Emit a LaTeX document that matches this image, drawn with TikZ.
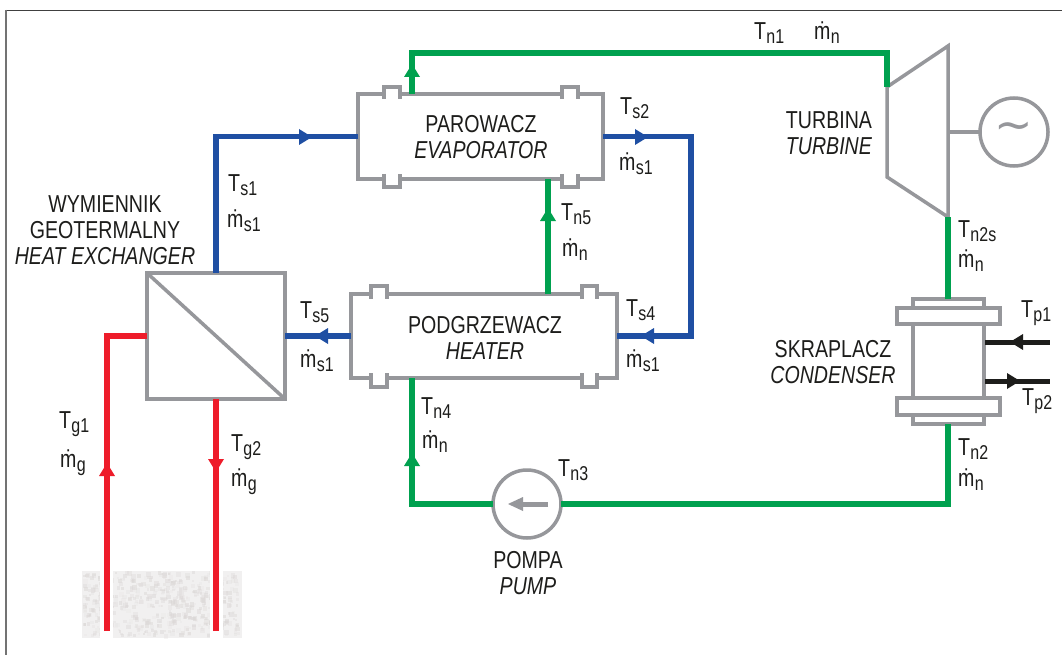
\documentclass[tikz,border=0pt]{standalone}
\usepackage{fontspec}
\setmainfont[FakeStretch=0.8]{Liberation Sans}
\newfontfamily\symfont{DejaVu Sans}
\definecolor{cgray}{HTML}{96979B}
\definecolor{cgreen}{HTML}{00A14F}
\definecolor{cblue}{HTML}{1F4FA3}
\definecolor{cred}{HTML}{EE1C2A}
\definecolor{cblack}{HTML}{1D1D1B}
\definecolor{cground}{HTML}{F1F0F0}
\definecolor{cspeck}{HTML}{DAD6D5}
\newcommand{\Tlab}[1]{T\kern0.5pt\raisebox{-4pt}{\fontsize{20}{20}\selectfont #1}}
\newcommand{\Mlab}[1]{\.{m}\kern0.5pt\raisebox{-4pt}{\fontsize{20}{20}\selectfont #1}}
\newcommand{\flow}[5]{\fill[#1] ({#2},{#3}) -- ({#2-13*(#4)+8*(#5)},{#3-13*(#5)+8*(#4)}) -- ({#2-13*(#4)-8*(#5)},{#3-13*(#5)-8*(#4)}) -- cycle;}
\tikzset{
  every node/.style={inner sep=0pt,outer sep=0pt,text=cblack,font=\fontsize{24.5}{26}\selectfont},
  unit/.style={draw=cgray,line width=3.5pt,rectangle},
  part/.style={draw=cgray,line width=3.5pt},
  pipeg/.style={draw=cgreen,line width=5.2pt},
  pipeb/.style={draw=cblue,line width=5.2pt},
  piper/.style={draw=cred,line width=5.5pt},
  pipek/.style={draw=cblack,line width=5pt},
  lab/.style={anchor=base west},
  captxt/.style={align=center,anchor=center},
}
\begin{document}
\begin{tikzpicture}[x=1pt,y=-1pt]
\useasboundingbox (0,0) rectangle (1062,655);
\fill[white] (0,0) rectangle (1062,655);
\draw[black!75,line width=1.3pt] (5,10.5) -- (1062,10.5);
\draw[black!55,line width=1.6pt] (6,10) -- (6,655);
% ground
\fill[cground] (82,571) rectangle (242,638);
\pgfmathsetseed{42}
\foreach \i in {1,...,520}{
  \pgfmathsetmacro{\gx}{82+rnd*155}
  \pgfmathsetmacro{\gy}{571+rnd*63}
  \pgfmathsetmacro{\go}{0.1+0.4*rnd}
  \pgfmathsetmacro{\gs}{2+3*rnd}
  \fill[cspeck,opacity=\go] (\gx,\gy) rectangle ++(\gs,\gs);
}
\fill[white] (100,571) rectangle (113,638);
\fill[white] (210,571) rectangle (223,638);
% units
\node[unit,minimum width=245pt,minimum height=85pt] (evap) at (480.5,136.5) {};
\node[unit,minimum width=266pt,minimum height=84pt] (heat) at (484,336) {};
\node[unit,minimum width=138pt,minimum height=126pt] (hx) at (216,336) {};
\draw[part] (hx.north west) -- (hx.south east);
\node[draw=cgray,line width=3.5pt,circle,minimum size=68pt] (pump) at (527,504) {};
\node[draw=cgray,line width=3.5pt,circle,minimum size=68pt] (gen) at (1014,132) {};
\node[font=\symfont\fontsize{46}{46}\selectfont,text=cgray] (tilde) at (1014,131) {∼};
% flanges evaporator
\foreach \xa/\xb in {384/400,562/578}{
  \fill[white] (\xa,90) rectangle (\xb,98);
  \fill[white] (\xa,175) rectangle (\xb,184);
  \draw[part] (\xa,99) -- (\xa,87) -- (\xb,87) -- (\xb,99);
  \draw[part] (\xa,174) -- (\xa,187) -- (\xb,187) -- (\xb,174);
}
% flanges heater
\foreach \xa/\xb in {371/387,582/597}{
  \fill[white] (\xa,289) rectangle (\xb,298);
  \fill[white] (\xa,374) rectangle (\xb,384);
  \draw[part] (\xa,299) -- (\xa,286) -- (\xb,286) -- (\xb,299);
  \draw[part] (\xa,373) -- (\xa,387) -- (\xb,387) -- (\xb,373);
}
% turbine
\coordinate (tin) at (887,87);
\coordinate (tout) at (948,217);
\coordinate (tshaft) at (948,132);
\draw[part,line join=miter] (tin) -- (948,46) -- (tout) -- (887,177) -- cycle;
\draw[part] (tshaft) -- (gen.west);
% condenser
\node[unit,minimum width=103pt,minimum height=16pt] (ftop) at (948.5,316) {};
\node[unit,minimum width=103pt,minimum height=17pt] (fbot) at (948.5,406.5) {};
\draw[part] (913,308) -- (913,299) -- (984,299) -- (984,308);
\draw[part] (913,415) -- (913,424) -- (984,424) -- (984,415);
\draw[part] (913,324) -- (913,398);
\draw[part] (984,324) -- (984,398);
\coordinate (cin) at (948,299);
\coordinate (cout) at (948,424);
% pump arrow
\draw[cgray,line width=5pt] (548,504) -- (520,504);
\fill[cgray] (508,504) -- (523,497) -- (523,511) -- cycle;
% green
\coordinate (eout) at (412,94);
\coordinate (topl) at (412,53);
\coordinate (topr) at (887,53);
\coordinate (hin) at (412,378);
\coordinate (hout) at (548,294);
\coordinate (ein) at (548,179);
\draw[pipeg,line join=miter] (eout) -- (topl) -- (topr) -- (tin);
\draw[pipeg] (hout) -- (ein);
\draw[pipeg] (tout) -- (cin);
\draw[pipeg,line join=miter] (cout) |- (pump.east);
\draw[pipeg,line join=miter] (pump.west) -| (hin);
\flow{cgreen}{412}{64}{0}{-1}
\flow{cgreen}{548}{208}{0}{-1}
\flow{cgreen}{412}{453}{0}{-1}
% blue
\draw[pipeb,line join=miter] (evap.west) -| (hx.north);
\draw[pipeb,line join=miter] (evap.east) -| (691,336) -- (heat.east);
\draw[pipeb] (heat.west) -- (hx.east);
\flow{cblue}{312}{137}{1}{0}
\flow{cblue}{648}{137}{1}{0}
\flow{cblue}{641}{336}{-1}{0}
\flow{cblue}{315}{336}{-1}{0}
% red
\coordinate (gin) at (107,631);
\coordinate (gout) at (216,631);
\coordinate (hxb) at (216,399);
\draw[piper,line join=miter] (gin) |- (hx.west);
\draw[piper] (gout) -- (hxb);
\flow{cred}{107}{463}{0}{-1}
\flow{cred}{216}{472}{0}{1}
% black
\coordinate (pa) at (985,342);
\coordinate (pb) at (1050,342);
\coordinate (pc) at (985,381);
\coordinate (pd) at (1050,381);
\draw[pipek] (pa) -- (pb);
\draw[pipek] (pc) -- (pd);
\flow{cblack}{1010}{342}{-1}{0}
\flow{cblack}{1020}{381}{1}{0}
% captions
\node[captxt] (tevap) at (481,137) {PAROWACZ\\\textit{EVAPORATOR}};
\node[captxt] (theat) at (485,338) {PODGRZEWACZ\\\textit{HEATER}};
\node[captxt] (tturb) at (829,133) {TURBINA\\\textit{TURBINE}};
\node[captxt] (tcond) at (833,362) {SKRAPLACZ\\\textit{CONDENSER}};
\node[captxt] (tpump) at (528,573) {POMPA\\\textit{PUMP}};
\node[captxt] (thx) at (105,230) {WYMIENNIK\\GEOTERMALNY\\\textit{HEAT EXCHANGER}};
% labels
\node[lab] (l1) at (754,40) {\Tlab{n1}};
\node[lab] (l2) at (814,40) {\Mlab{n}};
\node[lab] (l3) at (620,115) {\Tlab{s2}};
\node[lab] (l4) at (619,171) {\Mlab{s1}};
\node[lab] (l5) at (228,192) {\Tlab{s1}};
\node[lab] (l6) at (227,227) {\Mlab{s1}};
\node[lab] (l7) at (561,220) {\Tlab{n5}};
\node[lab] (l8) at (562,256) {\Mlab{n}};
\node[lab] (l9) at (300,318) {\Tlab{s5}};
\node[lab] (l10) at (300,367) {\Mlab{s1}};
\node[lab] (l11) at (626,316) {\Tlab{s4}};
\node[lab] (l12) at (626,367) {\Mlab{s1}};
\node[lab] (l13) at (421,414) {\Tlab{n4}};
\node[lab] (l14) at (422,448) {\Mlab{n}};
\node[lab] (l15) at (558,476) {\Tlab{n3}};
\node[lab] (l16) at (59,428) {\Tlab{g1}};
\node[lab] (l17) at (60,467) {\Mlab{g}};
\node[lab] (l18) at (231,451) {\Tlab{g2}};
\node[lab] (l19) at (231,486) {\Mlab{g}};
\node[lab] (l20) at (958,237) {\Tlab{n2s}};
\node[lab] (l21) at (958,267) {\Mlab{n}};
\node[lab] (l22) at (1021,317) {\Tlab{p1}};
\node[lab] (l23) at (1022,405) {\Tlab{p2}};
\node[lab] (l24) at (958,455) {\Tlab{n2}};
\node[lab] (l25) at (958,486) {\Mlab{n}};
\end{tikzpicture}
\end{document}
